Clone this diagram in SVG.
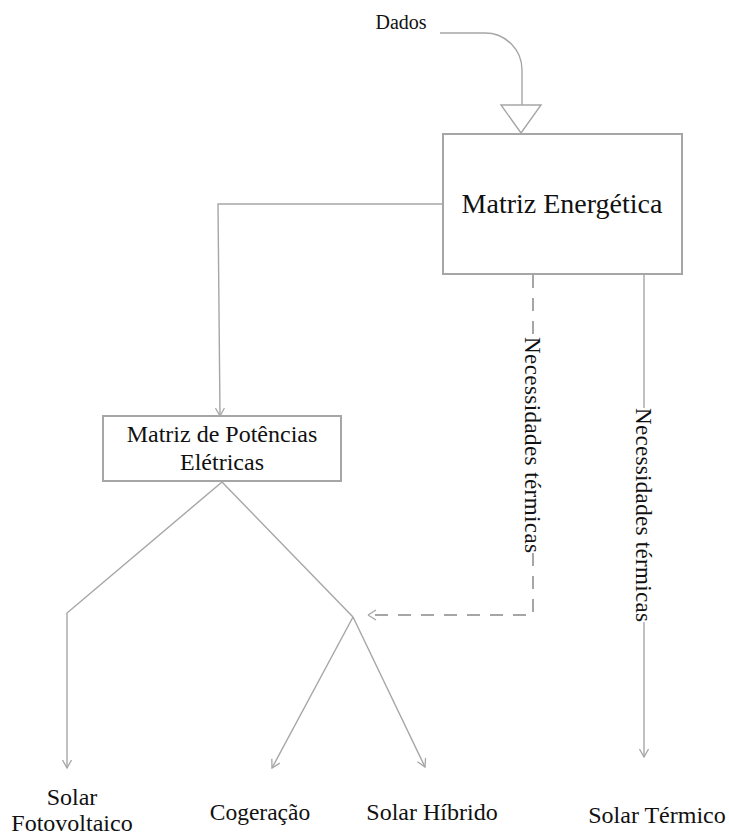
<svg xmlns="http://www.w3.org/2000/svg" width="729" height="835" viewBox="0 0 729 835">
<defs>
<marker id="arr" viewBox="0 0 10 10" refX="9" refY="5" markerWidth="10" markerHeight="10" markerUnits="userSpaceOnUse" orient="auto">
<path d="M1,0.5 L9,5 L1,9.5" fill="none" stroke="#a6a6a6" stroke-width="1.3"/>
</marker>
<style>
.box{fill:#fff;stroke:#a6a6a6;stroke-width:2}
.ln{fill:none;stroke:#a6a6a6;stroke-width:1.4}
.dash{fill:none;stroke:#a6a6a6;stroke-width:2;stroke-dasharray:13 10}
.t{font-family:"Liberation Serif","Times New Roman",serif;fill:#111}
</style>
</defs>
<rect width="729" height="835" fill="#fff"/>
<g id="connectors">
<path class="ln" d="M440,33 H485 A37,37 0 0 1 522,70 V105"/>
<polygon points="501,105 541,105 521,133" fill="#fff" stroke="#a6a6a6" stroke-width="1.4"/>
<path class="ln" d="M443,204 H218 L220,416" marker-end="url(#arr)"/>
<path class="ln" d="M222,482 L67,613 V768" marker-end="url(#arr)"/>
<path class="ln" d="M222,482 L353,617"/>
<path class="ln" d="M353,617 L272,768" marker-end="url(#arr)"/>
<path class="ln" d="M353,617 L425,767" marker-end="url(#arr)"/>
<path class="dash" d="M533,275 V337"/>
<path class="dash" d="M533,553 V615 H372"/>
<path class="ln" d="M368,615 l8,-5 M368,615 l8,5" />
<path class="ln" d="M644,275 V408"/>
<path class="ln" d="M644,622 V757" marker-end="url(#arr)"/>
<text class="t" x="532" y="445" font-size="23" text-anchor="middle" dominant-baseline="central" textLength="216" lengthAdjust="spacing" transform="rotate(90 532 445)">Necessidades térmicas</text>
<text class="t" x="643" y="515" font-size="23" text-anchor="middle" dominant-baseline="central" textLength="214" lengthAdjust="spacing" transform="rotate(90 643 515)">Necessidades térmicas</text>
</g>
<g id="dados">
<text class="t" x="401" y="29" font-size="20" text-anchor="middle">Dados</text>
</g>
<g id="matriz-energetica">
<rect class="box" x="443" y="134" width="239" height="140"/>
<text class="t" x="562" y="213" font-size="28" text-anchor="middle">Matriz Energética</text>
</g>
<g id="matriz-potencias">
<rect class="box" x="103" y="416" width="238" height="65"/>
<text class="t" x="222" y="442" font-size="24" text-anchor="middle">Matriz de Potências</text>
<text class="t" x="222" y="470" font-size="24" text-anchor="middle">Elétricas</text>
</g>
<g id="solar-fotovoltaico">
<text class="t" x="72" y="805" font-size="24" text-anchor="middle">Solar</text>
<text class="t" x="72" y="831" font-size="24" text-anchor="middle">Fotovoltaico</text>
</g>
<g id="cogeracao">
<text class="t" x="260" y="820" font-size="23.5" text-anchor="middle">Cogeração</text>
</g>
<g id="solar-hibrido">
<text class="t" x="432" y="820" font-size="24" text-anchor="middle">Solar Híbrido</text>
</g>
<g id="solar-termico">
<text class="t" x="657" y="823" font-size="24" text-anchor="middle">Solar Térmico</text>
</g>
</svg>
